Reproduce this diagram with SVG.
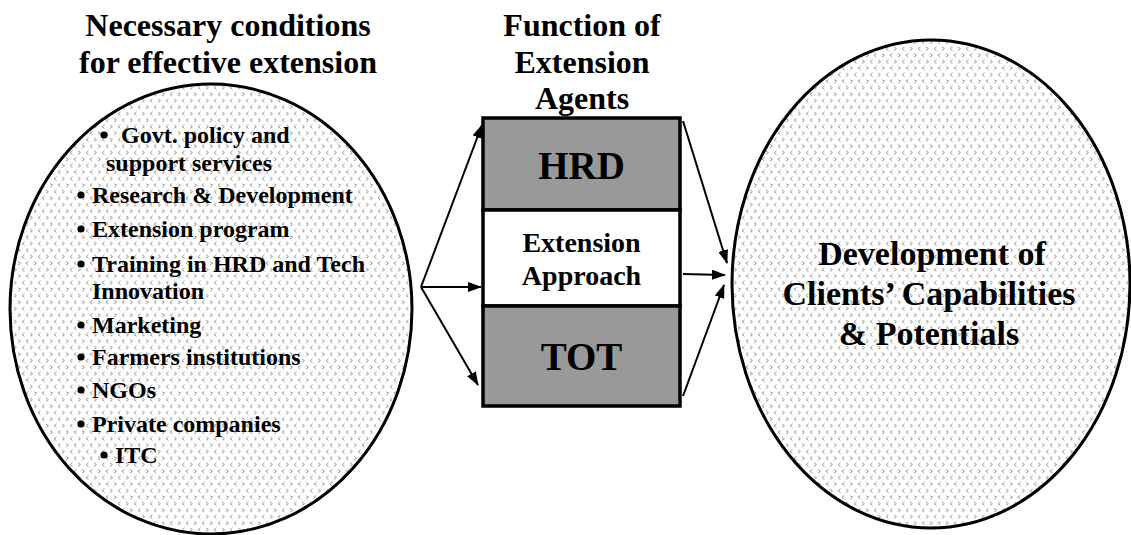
<svg xmlns="http://www.w3.org/2000/svg" width="1131" height="535" viewBox="0 0 1131 535">
  <defs>
    <!-- small grey chevron texture used inside the two ellipses -->
    <pattern id="chev" width="16" height="13" patternUnits="userSpaceOnUse">
      <g fill="none" stroke="#9a9a9a" stroke-width="1">
        <path d="M2 1.5 L4.5 3.2 L2 5"/>
        <path d="M12.5 1.5 L10 3.2 L12.5 5"/>
        <path d="M8.5 8 L6 9.7 L8.5 11.4"/>
        <path d="M14 8 L16.5 9.7 L14 11.4"/>
        <path d="M-2 8 L0.5 9.7 L-2 11.4"/>
      </g>
    </pattern>
    <marker id="arrow" viewBox="0 0 14 10" refX="13" refY="5" markerWidth="14" markerHeight="10" markerUnits="userSpaceOnUse" orient="auto">
      <path d="M0 0 L14 5 L0 10 Z" fill="#000"/>
    </marker>
  </defs>
  <rect width="1131" height="535" fill="#fff"/>

  <!-- column headings -->
  <g id="heading-conditions">
    <text x="228" y="36" font-family="Liberation Serif, serif" font-weight="bold" font-size="32" text-anchor="middle" style="font-family:'Liberation Serif',serif;font-weight:700">Necessary conditions</text>
    <text x="228" y="73" font-family="Liberation Serif, serif" font-weight="bold" font-size="32" text-anchor="middle" style="font-family:'Liberation Serif',serif;font-weight:700">for effective extension</text>
  </g>
  <g id="heading-function">
    <text x="582" y="36" font-family="Liberation Serif, serif" font-weight="bold" font-size="32" text-anchor="middle" style="font-family:'Liberation Serif',serif;font-weight:700">Function of</text>
    <text x="582" y="73" font-family="Liberation Serif, serif" font-weight="bold" font-size="32" text-anchor="middle" style="font-family:'Liberation Serif',serif;font-weight:700">Extension</text>
    <text x="582" y="109" font-family="Liberation Serif, serif" font-weight="bold" font-size="32" text-anchor="middle" style="font-family:'Liberation Serif',serif;font-weight:700">Agents</text>
  </g>

  <!-- left: conditions (bullets drawn as dots) -->
  <g id="conditions">
    <ellipse cx="211" cy="309" rx="201" ry="225" fill="url(#chev)" stroke="#000" stroke-width="3"/>
    <g fill="#000">
      <circle cx="104" cy="135" r="3.6"/>
      <circle cx="81" cy="195" r="3.6"/>
      <circle cx="81" cy="229" r="3.6"/>
      <circle cx="81" cy="264" r="3.6"/>
      <circle cx="81" cy="325" r="3.6"/>
      <circle cx="81" cy="357" r="3.6"/>
      <circle cx="81" cy="390" r="3.6"/>
      <circle cx="81" cy="424" r="3.6"/>
      <circle cx="104" cy="455" r="3.6"/>
    </g>
    <text x="121" y="143" font-family="Liberation Serif, serif" font-weight="bold" font-size="24" style="font-family:'Liberation Serif',serif;font-weight:700">Govt. policy and</text>
    <text x="106" y="171" font-family="Liberation Serif, serif" font-weight="bold" font-size="24" style="font-family:'Liberation Serif',serif;font-weight:700">support services</text>
    <text x="92" y="203" font-family="Liberation Serif, serif" font-weight="bold" font-size="24" style="font-family:'Liberation Serif',serif;font-weight:700">Research &amp; Development</text>
    <text x="92" y="237" font-family="Liberation Serif, serif" font-weight="bold" font-size="24" style="font-family:'Liberation Serif',serif;font-weight:700">Extension program</text>
    <text x="92" y="272" font-family="Liberation Serif, serif" font-weight="bold" font-size="24" style="font-family:'Liberation Serif',serif;font-weight:700">Training in HRD and Tech</text>
    <text x="92" y="299" font-family="Liberation Serif, serif" font-weight="bold" font-size="24" style="font-family:'Liberation Serif',serif;font-weight:700">Innovation</text>
    <text x="92" y="333" font-family="Liberation Serif, serif" font-weight="bold" font-size="24" style="font-family:'Liberation Serif',serif;font-weight:700">Marketing</text>
    <text x="92" y="365" font-family="Liberation Serif, serif" font-weight="bold" font-size="24" style="font-family:'Liberation Serif',serif;font-weight:700">Farmers institutions</text>
    <text x="92" y="398" font-family="Liberation Serif, serif" font-weight="bold" font-size="24" style="font-family:'Liberation Serif',serif;font-weight:700">NGOs</text>
    <text x="92" y="432" font-family="Liberation Serif, serif" font-weight="bold" font-size="24" style="font-family:'Liberation Serif',serif;font-weight:700">Private companies</text>
    <text x="115" y="463" font-family="Liberation Serif, serif" font-weight="bold" font-size="24" style="font-family:'Liberation Serif',serif;font-weight:700">ITC</text>
  </g>

  <!-- centre: function stack -->
  <g id="hrd">
    <rect x="483" y="118" width="197" height="92" fill="#999" stroke="#000" stroke-width="3.5"/>
    <text x="581.5" y="179" font-family="Liberation Serif, serif" font-weight="bold" font-size="39" text-anchor="middle" style="font-family:'Liberation Serif',serif;font-weight:700">HRD</text>
  </g>
  <g id="approach">
    <rect x="483" y="210" width="197" height="96" fill="#fff" stroke="#000" stroke-width="3.5"/>
    <text x="581.5" y="252" font-family="Liberation Serif, serif" font-weight="bold" font-size="28" text-anchor="middle" style="font-family:'Liberation Serif',serif;font-weight:700">Extension</text>
    <text x="581.5" y="285" font-family="Liberation Serif, serif" font-weight="bold" font-size="28" text-anchor="middle" style="font-family:'Liberation Serif',serif;font-weight:700">Approach</text>
  </g>
  <g id="tot">
    <rect x="483" y="306" width="197" height="100" fill="#999" stroke="#000" stroke-width="3.5"/>
    <text x="581.5" y="370" font-family="Liberation Serif, serif" font-weight="bold" font-size="39" text-anchor="middle" style="font-family:'Liberation Serif',serif;font-weight:700">TOT</text>
  </g>

  <!-- right: outcome -->
  <g id="outcome">
    <ellipse cx="931" cy="284" rx="199" ry="244" fill="url(#chev)" stroke="#000" stroke-width="3"/>
    <text x="932" y="265" font-family="Liberation Serif, serif" font-weight="bold" font-size="34" text-anchor="middle" style="font-family:'Liberation Serif',serif;font-weight:700">Development of</text>
    <text x="929" y="305" font-family="Liberation Serif, serif" font-weight="bold" font-size="34" text-anchor="middle" style="font-family:'Liberation Serif',serif;font-weight:700">Clients’ Capabilities</text>
    <text x="929" y="345" font-family="Liberation Serif, serif" font-weight="bold" font-size="34" text-anchor="middle" style="font-family:'Liberation Serif',serif;font-weight:700">&amp; Potentials</text>
  </g>

  <!-- connectors -->
  <g id="connectors" stroke="#000" stroke-width="2" fill="none" marker-end="url(#arrow)">
    <line x1="421" y1="287" x2="482" y2="125"/>
    <line x1="421" y1="287" x2="481" y2="287"/>
    <line x1="421" y1="287" x2="478" y2="385"/>
    <line x1="683" y1="121" x2="727" y2="263"/>
    <line x1="683" y1="274" x2="725" y2="275"/>
    <line x1="683" y1="396" x2="724" y2="285"/>
  </g>
</svg>
